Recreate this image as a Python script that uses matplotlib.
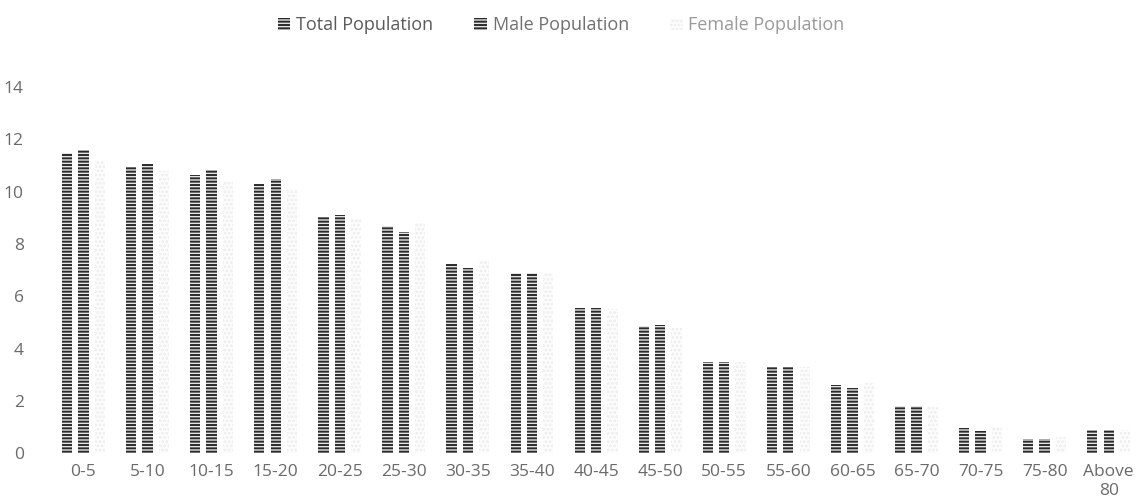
import numpy as np
import matplotlib.pyplot as plt

plt.rcParams['font.family'] = ['Open Sans', 'DejaVu Sans']
plt.rcParams['hatch.linewidth'] = 1.4

age_groups = ['0-5', '5-10', '10-15', '15-20', '20-25', '25-30', '30-35', '35-40',
              '40-45', '45-50', '50-55', '55-60', '60-65', '65-70', '70-75', '75-80',
              'Above\n80']
total_pop = [11.5, 10.95, 10.65, 10.3, 9.05, 8.7, 7.25, 6.9, 5.55, 4.85,
             3.5, 3.3, 2.6, 1.8, 0.95, 0.55, 0.9]
male_pop = [11.6, 11.05, 10.85, 10.5, 9.1, 8.45, 7.1, 6.9, 5.55, 4.9,
            3.5, 3.3, 2.5, 1.8, 0.85, 0.55, 0.9]
female_pop = [11.2, 10.8, 10.4, 10.1, 9.0, 8.8, 7.4, 6.9, 5.5, 4.8,
              3.5, 3.3, 2.7, 1.8, 1.0, 0.6, 0.9]

x = np.arange(len(age_groups))
w = 0.16
off = 0.255

fig, ax = plt.subplots(figsize=(11.43, 4.98), dpi=100)
fig.subplots_adjust(left=0.045, right=0.998, top=0.825, bottom=0.09)

ax.bar(x - off, total_pop, w, color='#e4e4e4', edgecolor='#2a2a2a', linewidth=0,
       hatch='-----', label='Total Population')
ax.bar(x, male_pop, w, color='#e4e4e4', edgecolor='#2a2a2a', linewidth=0,
       hatch='-----', label='Male Population')
ax.bar(x + off, female_pop, w, color='#fdfdfd', edgecolor='#ededed', linewidth=0,
       hatch='....', label='Female Population')

ax.set_ylim(0, 14)
ax.set_xlim(-0.5, len(age_groups) - 0.5)
ax.set_yticks(range(0, 15, 2))
ax.set_xticks(x)
ax.set_xticklabels(age_groups)
ax.tick_params(axis='both', length=0, labelsize=12.5, colors='#6a6a6a')
ax.tick_params(axis='x', pad=8)
ax.tick_params(axis='y', pad=20)
for s in ax.spines.values():
    s.set_visible(False)

leg = fig.legend(loc='upper center', bbox_to_anchor=(0.491, 1.0), ncol=3, frameon=False,
                 fontsize=13, handlelength=0.7, handleheight=0.7, columnspacing=2.3,
                 handletextpad=0.3)
for t, c in zip(leg.get_texts(), ['#5a5a5a', '#707070', '#9a9a9a']):
    t.set_color(c)

plt.savefig('out.png')
